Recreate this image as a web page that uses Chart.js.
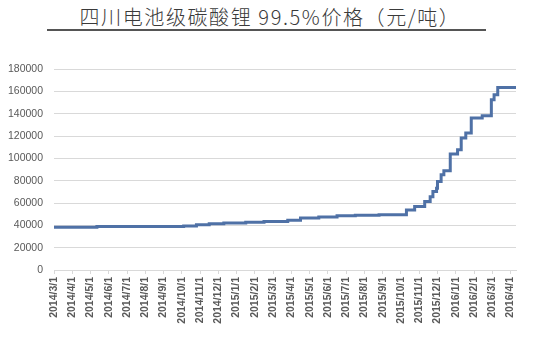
<!DOCTYPE html>
<html lang="zh">
<head>
    <meta charset="UTF-8">
    <title>四川电池级碳酸锂价格</title>
    <script src="https://cdn.jsdelivr.net/npm/chart.js"></script>
    <style>
        body {
            margin: 0;
            background: #fff;
        }
        .wrap {
            position: relative;
            width: 542px;
            height: 349px;
        }
        .title {
            position: absolute;
            left: 0;
            top: 2px;
            width: 540px;
            text-align: center;
            font-family: "Noto Sans CJK SC", sans-serif;
            font-size: 20px;
            font-weight: 300;
            letter-spacing: 1.6px;
            color: #3a3a3a;
        }
        .rule {
            position: absolute;
            left: 47px;
            top: 29px;
            width: 439px;
            height: 2px;
            background: #555;
        }
        canvas {
            position: absolute;
            left: 0;
            top: 0;
        }
    </style>
</head>
<body>
    <div class="wrap">
        <div class="title">四川电池级碳酸锂 99.5%价格（元/吨）</div>
        <div class="rule"></div>
        <canvas id="priceChart" width="542" height="349"></canvas>
    </div>

    <script>
        // x tick labels, one per month starting 2014/3/1
        const monthLabels = [
            "2014/3/1", "2014/4/1", "2014/5/1", "2014/6/1", "2014/7/1", "2014/8/1",
            "2014/9/1", "2014/10/1", "2014/11/1", "2014/12/1", "2015/1/1", "2015/2/1",
            "2015/3/1", "2015/4/1", "2015/5/1", "2015/6/1", "2015/7/1", "2015/8/1",
            "2015/9/1", "2015/10/1", "2015/11/1", "2015/12/1", "2016/1/1", "2016/2/1",
            "2016/3/1", "2016/4/1"
        ];

        // price change points: months since 2014/3/1, price in yuan/ton
        const priceMonths = [
            0, 2.35, 7.1, 7.8, 8.5, 9.3, 10.5, 11.5, 12.8, 13.5, 14.5, 15.5, 16.5, 17.8,
            19.3, 19.75, 20.3, 20.6, 20.75, 20.95, 21.0, 21.2, 21.35, 21.7, 22.1, 22.3,
            22.55, 22.85, 23.45, 23.95, 24.1, 24.3, 25.3
        ];
        const priceValues = [
            38300, 39000, 39500, 40500, 41500, 42000, 42800, 43500, 44500, 46500, 47500, 48500, 49000, 49500,
            53800, 56800, 61300, 65700, 70200, 73300, 79200, 85200, 88800, 103800, 107600, 118100,
            122600, 136100, 138100, 152500, 157000, 163500, 163500
        ];

        const yTicks = [0, 20000, 40000, 60000, 80000, 100000, 120000, 140000, 160000, 180000];

        const points = priceMonths.map((m, i) => ({ x: m, y: priceValues[i] }));

        const ctx = document.getElementById('priceChart').getContext('2d');
        new Chart(ctx, {
            type: 'line',
            data: {
                datasets: [{
                    data: points,
                    borderColor: '#4f71a6',
                    borderWidth: 3,
                    pointRadius: 0,
                    stepped: 'before',
                    fill: false
                }]
            },
            options: {
                responsive: false,
                animation: false,
                layout: { padding: { left: 0, right: 26, top: 69, bottom: 0 } },
                plugins: {
                    legend: { display: false },
                    tooltip: { enabled: false }
                },
                scales: {
                    x: {
                        type: 'linear',
                        min: 0,
                        max: 25.3,
                        afterBuildTicks: s => { s.ticks = monthLabels.map((_, i) => ({ value: i })); },
                        afterFit: s => { s.height = 79; },
                        border: { color: '#d9d9d9' },
                        grid: { drawOnChartArea: false, drawTicks: true, tickLength: 4, color: '#d9d9d9' },
                        ticks: {
                            autoSkip: false,
                            minRotation: 90,
                            maxRotation: 90,
                            padding: 3,
                            color: '#595959',
                            font: { family: 'Liberation Sans', size: 10.5, weight: 'bold' },
                            callback: v => monthLabels[v]
                        }
                    },
                    y: {
                        min: 0,
                        max: 180000,
                        afterBuildTicks: s => { s.ticks = yTicks.map(v => ({ value: v })); },
                        afterFit: s => { s.width = 54; },
                        border: { display: false },
                        grid: { color: '#d9d9d9', drawTicks: false },
                        ticks: {
                            padding: 11,
                            color: '#595959',
                            font: { family: 'Liberation Sans', size: 10.5 },
                            callback: v => String(v)
                        }
                    }
                }
            }
        });
    </script>
</body>
</html>
